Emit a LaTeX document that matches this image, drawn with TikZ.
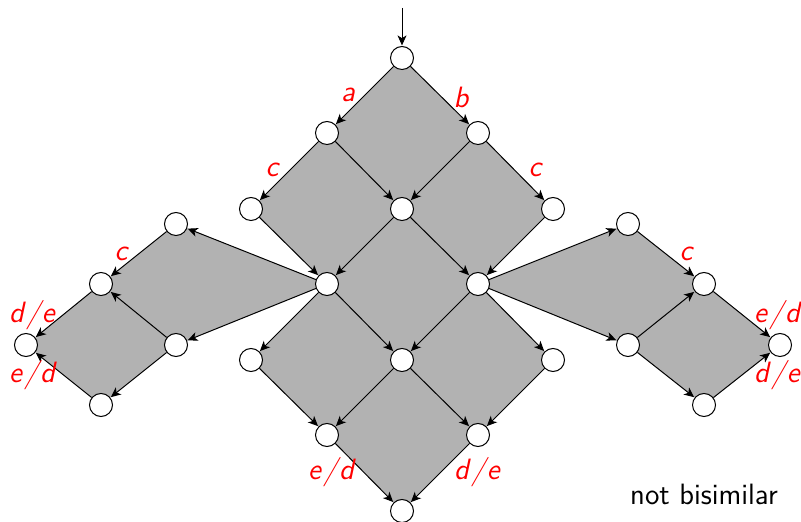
\documentclass[tikz,border=0pt]{standalone}
\usepackage{fontspec}
\usetikzlibrary{arrows.meta,backgrounds}
\newcommand{\slashlab}[2]{#1\hspace{1.2pt}/\hspace{0.6pt}#2}
\begin{document}
\begin{tikzpicture}[x=0.5pt,y=-0.5pt,
  st/.style={circle,draw,fill=white,line width=0.5pt,minimum size=11.5pt,inner sep=0pt},
  tr/.style={-{Stealth[length=5pt,width=4.5pt,inset=1.4pt]},line width=0.5pt,shorten >=0.3pt},
  lab/.style={text=red,font=\fontsize{14.7}{16}\selectfont\sffamily\itshape,inner sep=0pt},
  reg/.style={fill=black!30}]
\useasboundingbox (0,0) rectangle (801,522);
% states
\node[st] (T) at (402,58) {};
\node[st] (A) at (327,133) {};
\node[st] (B) at (478,133) {};
\node[st] (C1) at (251,209) {};
\node[st] (M) at (402,209) {};
\node[st] (C2) at (553,209) {};
\node[st] (L) at (327,284) {};
\node[st] (R) at (478,284) {};
\node[st] (LU) at (176,224) {};
\node[st] (LC) at (101,284) {};
\node[st] (LL) at (26,345) {};
\node[st] (LD) at (176,345) {};
\node[st] (LB) at (101,405) {};
\node[st] (RU) at (628,224) {};
\node[st] (RC) at (704,284) {};
\node[st] (RR) at (780,345) {};
\node[st] (RD) at (628,345) {};
\node[st] (RB) at (704,405) {};
\node[st] (D1) at (251,360) {};
\node[st] (D2) at (402,360) {};
\node[st] (D3) at (553,360) {};
\node[st] (E1) at (327,435) {};
\node[st] (E2) at (478,435) {};
\node[st] (F) at (402,511) {};
\coordinate (in) at (402,8);
% regions
\begin{scope}[on background layer]
\fill[reg] (T.center) -- (B.center) -- (C2.center) -- (R.center) -- (D3.center) -- (E2.center) -- (F.center) -- (E1.center) -- (D1.center) -- (L.center) -- (C1.center) -- (A.center) -- cycle;
\fill[reg] (L.center) -- (LU.center) -- (LC.center) -- (LL.center) -- (LB.center) -- (LD.center) -- cycle;
\fill[reg] (R.center) -- (RU.center) -- (RC.center) -- (RR.center) -- (RB.center) -- (RD.center) -- cycle;
\end{scope}
% transitions
\draw[tr] (in) -- (T);
\draw[tr] (T) -- (A);
\draw[tr] (T) -- (B);
\draw[tr] (A) -- (C1);
\draw[tr] (A) -- (M);
\draw[tr] (B) -- (M);
\draw[tr] (B) -- (C2);
\draw[tr] (C1) -- (L);
\draw[tr] (M) -- (L);
\draw[tr] (M) -- (R);
\draw[tr] (C2) -- (R);
\draw[tr] (L) -- (LU);
\draw[tr] (L) -- (LD);
\draw[tr] (LU) -- (LC);
\draw[tr] (LD) -- (LC);
\draw[tr] (LC) -- (LL);
\draw[tr] (LD) -- (LB);
\draw[tr] (LB) -- (LL);
\draw[tr] (R) -- (RU);
\draw[tr] (R) -- (RD);
\draw[tr] (RU) -- (RC);
\draw[tr] (RD) -- (RC);
\draw[tr] (RC) -- (RR);
\draw[tr] (RD) -- (RB);
\draw[tr] (RB) -- (RR);
\draw[tr] (L) -- (D1);
\draw[tr] (L) -- (D2);
\draw[tr] (R) -- (D2);
\draw[tr] (R) -- (D3);
\draw[tr] (D1) -- (E1);
\draw[tr] (D2) -- (E1);
\draw[tr] (D2) -- (E2);
\draw[tr] (D3) -- (E2);
\draw[tr] (E1) -- (F);
\draw[tr] (E2) -- (F);
% labels
\node[lab] (la) at (348,95) {a};
\node[lab] (lb) at (461,97) {b};
\node[lab] (lc1) at (272,170) {c};
\node[lab] (lc2) at (535,170) {c};
\node[lab] (lc3) at (121,254) {c};
\node[lab] (lde1) at (32,315) {\slashlab{d}{e}};
\node[lab] (led1) at (32,375) {\slashlab{e}{d}};
\node[lab] (lc4) at (686,254) {c};
\node[lab] (led2) at (777,315) {\slashlab{e}{d}};
\node[lab] (lde2) at (777,375) {\slashlab{d}{e}};
\node[lab] (led3) at (331,472) {\slashlab{e}{d}};
\node[lab] (lde3) at (477,472) {\slashlab{d}{e}};
\node[font=\fontsize{14.7}{16}\selectfont\sffamily,inner sep=0pt] (nb) at (704,494) {not bisimilar};
\end{tikzpicture}
\end{document}
